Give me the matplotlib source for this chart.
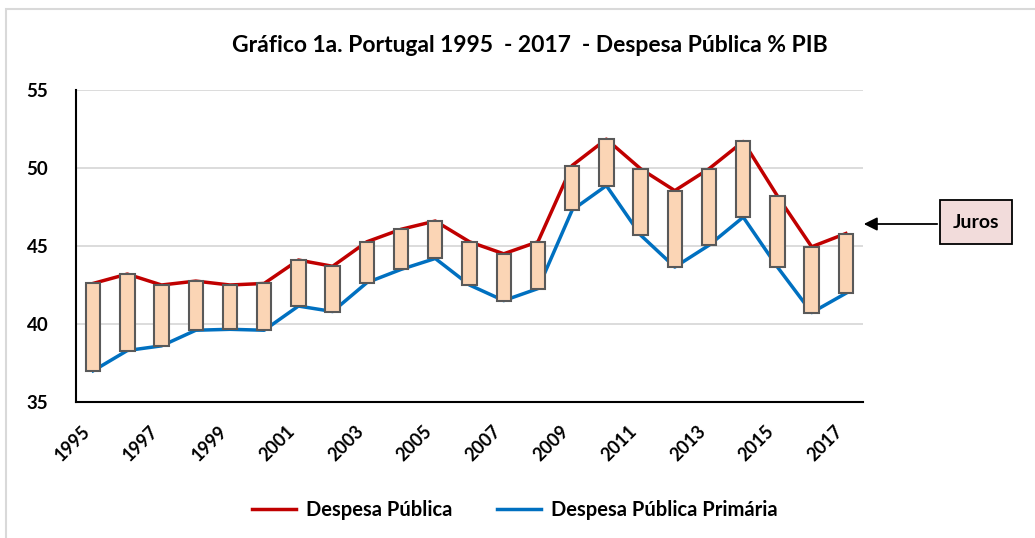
import matplotlib
matplotlib.use("Agg")
import matplotlib.pyplot as plt
import matplotlib.transforms as mtransforms
from matplotlib.lines import Line2D
from matplotlib.patches import Rectangle, FancyArrowPatch

plt.rcParams['font.family'] = ['Lato', 'DejaVu Sans']
plt.rcParams['font.weight'] = 'bold'

# Dados (% do PIB)
anos = list(range(1995, 2018))
despesa_publica = [42.6, 43.2, 42.5, 42.75, 42.5, 42.6, 44.1, 43.7, 45.27, 46.07, 46.6, 45.27,
                   44.5, 45.27, 50.16, 51.85, 49.95, 48.55, 49.95, 51.7, 48.2, 44.95, 45.8]
despesa_primaria = [37.0, 38.3, 38.6, 39.6, 39.66, 39.6, 41.15, 40.8, 42.65, 43.5, 44.2, 42.5,
                    41.5, 42.27, 47.3, 48.87, 45.7, 43.65, 45.05, 46.85, 43.65, 40.73, 41.97]
anos_ticks = anos[::2]
y_ticks = [35, 40, 45, 50, 55]

W, H = 1035, 538
fig = plt.figure(figsize=(W / 100, H / 100), dpi=100)

# moldura da área do gráfico
fig.patches.append(Rectangle((6 / W, -0.2), 1.2, 1.2 - 9 / H,
                             transform=fig.transFigure, fill=False,
                             edgecolor='#D9D9D9', linewidth=1.5))

ax = fig.add_axes([76 / W, 1 - 402 / H, (863 - 76) / W, (402 - 90) / H])

ax.plot(anos, despesa_publica, color='#C00000', linewidth=2.5, zorder=2)
ax.plot(anos, despesa_primaria, color='#0070C0', linewidth=2.5, zorder=2)

juros = [t - p for t, p in zip(despesa_publica, despesa_primaria)]
ax.bar(anos, juros, bottom=despesa_primaria, width=0.42, color='#FBD5B5',
       edgecolor='#595959', linewidth=1.5, zorder=3)

ax.set_xlim(1994.5, 2017.5)
ax.set_ylim(35, 55)
ax.set_yticks(y_ticks)
ax.set_xticks(anos_ticks)
ax.set_xticklabels([str(a) for a in anos_ticks], rotation=45, ha='right',
                   fontsize=13, fontweight='bold')
shift = mtransforms.ScaledTranslation(6 / 72, 0, fig.dpi_scale_trans)
for lbl in ax.get_xticklabels():
    lbl.set_transform(lbl.get_transform() + shift)
ax.tick_params(axis='y', length=0, pad=20, labelsize=13.5)
ax.tick_params(axis='x', length=0, pad=15)
ax.grid(axis='y', color='#D9D9D9', linewidth=1.3, zorder=0)
ax.set_axisbelow(True)
for s in ['top', 'right']:
    ax.spines[s].set_visible(False)
for s in ['left', 'bottom']:
    ax.spines[s].set_linewidth(1.5)
    ax.spines[s].set_color('black')

fig.text(530 / W, 1 - 45 / H, 'Gráfico 1a. Portugal 1995  - 2017  - Despesa Pública % PIB',
         ha='center', va='center', fontsize=16.5, fontweight='bold')

handles = [Line2D([], [], color='#C00000', linewidth=2.5),
           Line2D([], [], color='#0070C0', linewidth=2.5)]
fig.legend(handles, ['Despesa Pública', 'Despesa Pública Primária'], ncol=2,
           loc='center', bbox_to_anchor=(515 / W, 1 - 510 / H), frameon=False,
           handlelength=2.2, handletextpad=0.5, columnspacing=2.2,
           prop={'weight': 'bold', 'size': 14.5})

# caixa "Juros" com seta
fig.patches.append(Rectangle((940 / W, 1 - 244 / H), 72 / W, 44 / H,
                             transform=fig.transFigure, facecolor='#F2DCDB',
                             edgecolor='black', linewidth=1.3))
fig.text(976 / W, 1 - 222 / H, 'Juros', ha='center', va='center', fontsize=14,
         fontweight='bold')
fig.add_artist(FancyArrowPatch(
    (940 / W, 1 - 224 / H), (861 / W, 1 - 224 / H), transform=fig.transFigure,
    arrowstyle='-|>', mutation_scale=20, color='black', linewidth=1.3))

fig.savefig('out.png', dpi=100)
